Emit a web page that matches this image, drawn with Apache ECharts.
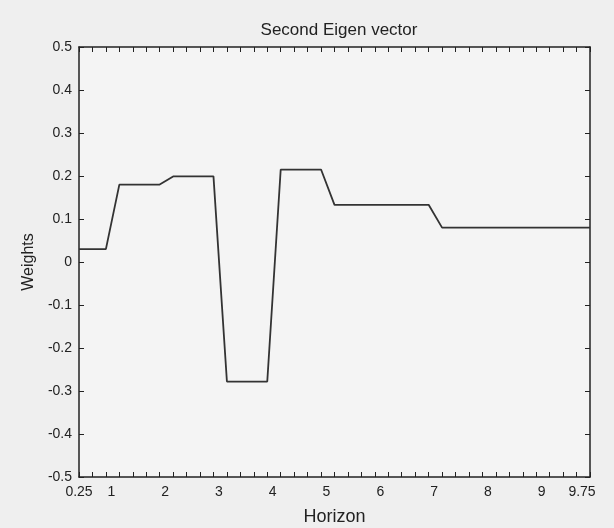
<!DOCTYPE html>
<html>
<head>
<meta charset="utf-8">
<script src="https://cdn.jsdelivr.net/npm/echarts@6/dist/echarts.min.js"></script>
<style>
html,body{margin:0;padding:0;background:#efefef;}
#c{width:614px;height:528px;}
</style>
</head>
<body>
<div id="c"></div>
<script>
var titleText = 'Second Eigen vector';
var xName = 'Horizon';
var yName = 'Weights';
var horizons = [0.25,0.5,0.75,1,1.25,1.5,1.75,2,2.25,2.5,2.75,3,3.25,3.5,3.75,4,4.25,4.5,4.75,5,5.25,5.5,5.75,6,6.25,6.5,6.75,7,7.25,7.5,7.75,8,8.25,8.5,8.75,9,9.25,9.5,9.75];
var weights = [0.03,0.03,0.03,0.18,0.18,0.18,0.18,0.199,0.199,0.199,0.199,-0.278,-0.278,-0.278,-0.278,0.215,0.215,0.215,0.215,0.133,0.133,0.133,0.133,0.133,0.133,0.133,0.133,0.08,0.08,0.08,0.08,0.08,0.08,0.08,0.08,0.08,0.08,0.08,0.08];
var xTickLabels = [0.25,1,2,3,4,5,6,7,8,9,9.75];

var data = horizons.map(function(h,i){return [h, weights[i]];});
var font = 'Liberation Sans, Arial, sans-serif';
var axisColor = '#222';

var chart = echarts.init(document.getElementById('c'));
chart.setOption({
  backgroundColor: '#efefef',
  animation: false,
  title: {
    text: titleText, left: 334, top: 17, textAlign: 'center',
    textStyle: {fontFamily: font, fontSize: 17, fontWeight: 'normal', color: '#222'}
  },
  grid: {left: 79, right: 24, top: 47, bottom: 51, show: true, backgroundColor: '#f4f4f4', borderWidth: 0, outerBoundsMode: 'none', containLabel: false},
  xAxis: [{
    type: 'value', min: 0.25, max: 9.75, interval: 0.25,
    name: xName, nameLocation: 'middle', nameGap: 31,
    nameTextStyle: {fontFamily: font, fontSize: 18, color: '#222'},
    axisLine: {onZero: false, lineStyle: {color: axisColor, width: 1.5}},
    axisTick: {inside: true, length: 5, lineStyle: {color: axisColor}},
    splitLine: {show: false},
    axisLabel: {
      margin: 8, fontFamily: font, fontSize: 14, color: '#222', showMinLabel: true, showMaxLabel: true,
      formatter: function(v){
        var r = Math.round(v*100)/100;
        for (var i=0;i<xTickLabels.length;i++){
          if (Math.abs(xTickLabels[i]-r) < 1e-6) {
            if (i === 0) return '{a|' + r + '}';
            return '{b|' + r + '}';
          }
        }
        return '';
      },
      rich: {
        a: {fontFamily: font, fontSize: 14, color: '#222', padding: [0, 0, 0, 0]},
        b: {fontFamily: font, fontSize: 14, color: '#222', padding: [0, 16, 0, 0]}
      }
    }
  },{
    type: 'value', position: 'top', min: 0.25, max: 9.75, interval: 0.25,
    axisLine: {show: true, onZero: false, lineStyle: {color: axisColor, width: 1.5}},
    axisTick: {show: true, inside: true, length: 5, lineStyle: {color: axisColor}},
    axisLabel: {show: false}, splitLine: {show: false}
  }],
  yAxis: [{
    type: 'value', min: -0.5, max: 0.5, interval: 0.1,
    name: yName, nameLocation: 'middle', nameGap: 42, nameRotate: 90,
    nameTextStyle: {fontFamily: font, fontSize: 16, color: '#222'},
    axisLine: {onZero: false, lineStyle: {color: axisColor, width: 1.5}},
    axisTick: {inside: true, length: 5, lineStyle: {color: axisColor}},
    splitLine: {show: false},
    axisLabel: {
      margin: 7, fontFamily: font, fontSize: 14, color: '#222',
      formatter: function(v){ var r = Math.round(v*10)/10; return r === 0 ? '0' : String(r); }
    }
  },{
    type: 'value', position: 'right', min: -0.5, max: 0.5, interval: 0.1,
    axisLine: {show: true, onZero: false, lineStyle: {color: axisColor, width: 1.5}},
    axisTick: {show: true, inside: true, length: 5, lineStyle: {color: axisColor}},
    axisLabel: {show: false}, splitLine: {show: false}
  }],
  series: [{
    type: 'line', data: data, xAxisIndex: 0, yAxisIndex: 0,
    showSymbol: false, symbol: 'none',
    lineStyle: {color: '#333', width: 1.8}
  }]
});
</script>
</body>
</html>
